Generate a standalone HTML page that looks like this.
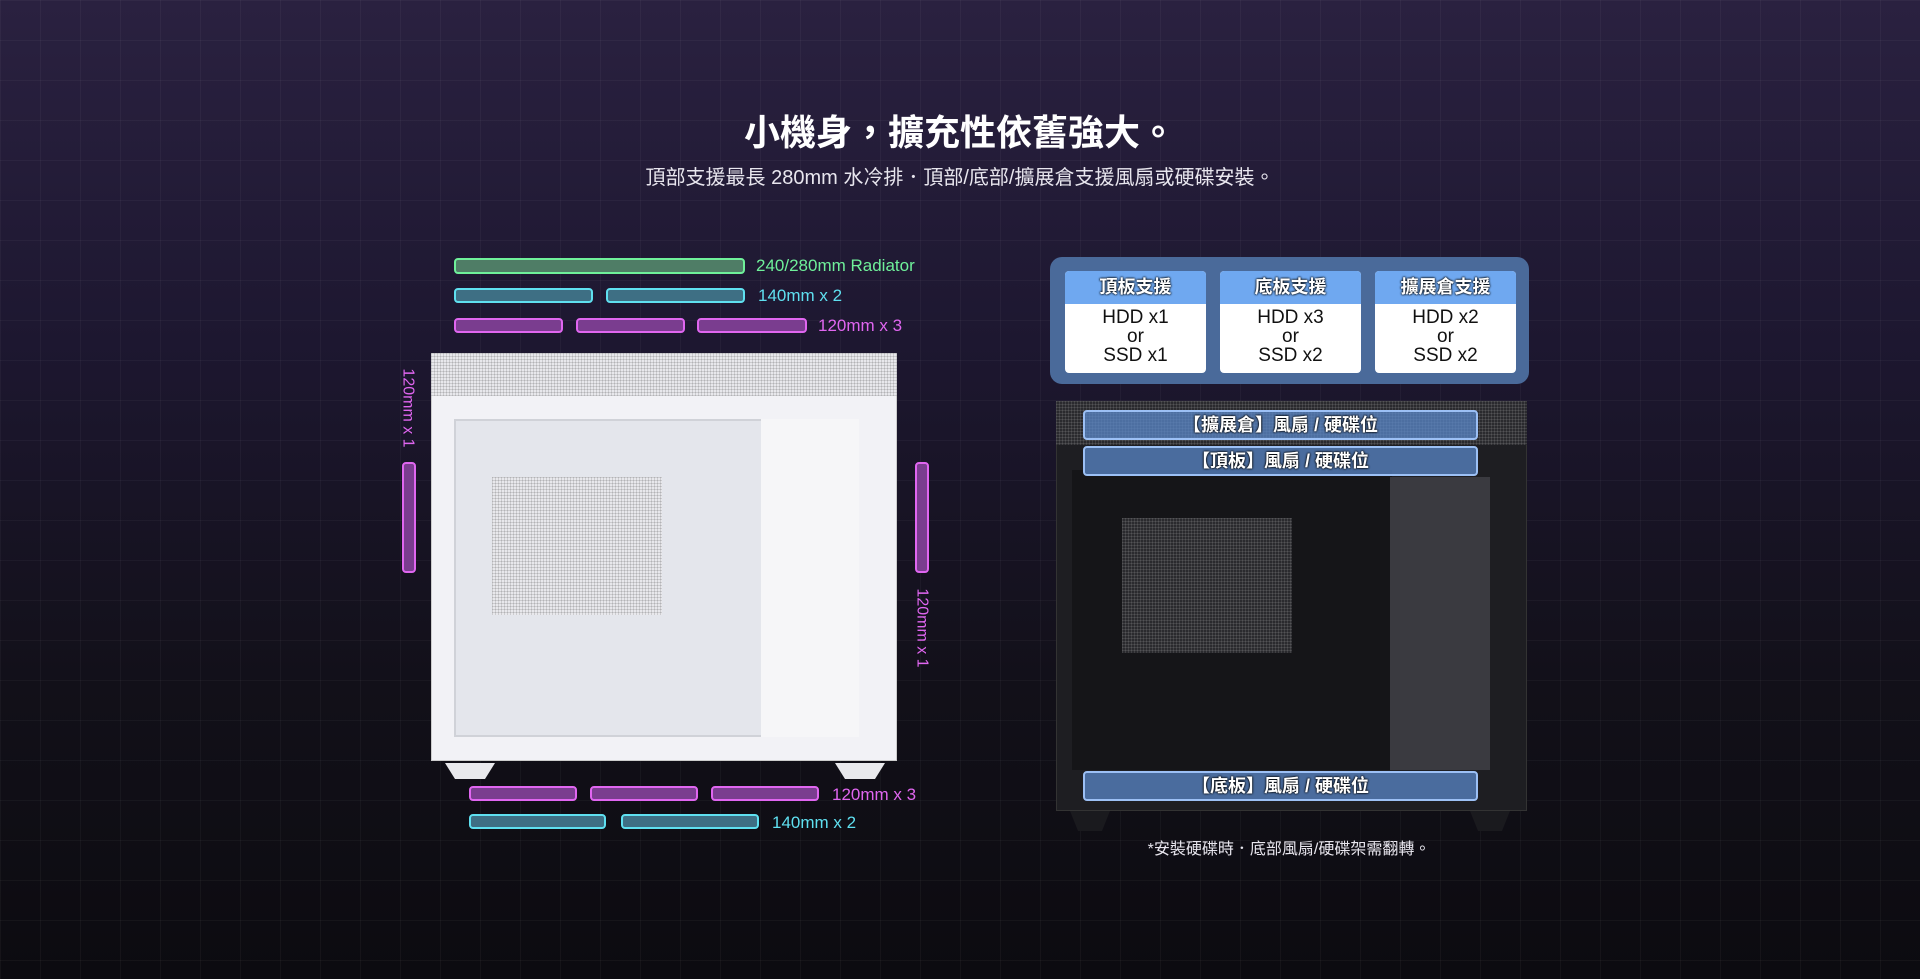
<!DOCTYPE html>
<html><head><meta charset="utf-8"><style>
*{margin:0;padding:0;box-sizing:border-box}
body{width:1920px;height:979px;overflow:hidden;position:relative;font-family:"Liberation Sans","Noto Sans CJK TC",sans-serif;
background:linear-gradient(180deg,#2a2140 0%,#1d1730 35%,#121019 70%,#0c0b10 100%)}
.a{position:absolute}
.grid{position:absolute;inset:0;background-image:linear-gradient(rgba(255,255,255,.035) 1px,transparent 1px),linear-gradient(90deg,rgba(255,255,255,.035) 1px,transparent 1px);background-size:40px 40px}
.bar{position:absolute;border-radius:4px;border:2px solid}
.g{border-color:#6ff09a;background:#4f7d66}
.c{border-color:#5fe0f0;background:#3e6f84}
.m{border-color:#e066f0;background:#7a3d8f}
.lbl{position:absolute;font-size:17px;white-space:nowrap;line-height:1}
.mesh{background-color:#e8e8ec;background-image:linear-gradient(rgba(0,0,0,.12) 1px,transparent 1px),linear-gradient(90deg,rgba(0,0,0,.12) 1px,transparent 1px);background-size:3px 3px}
.dmesh{background-color:#2a2a2e;background-image:linear-gradient(rgba(255,255,255,.1) 1px,transparent 1px),linear-gradient(90deg,rgba(255,255,255,.1) 1px,transparent 1px);background-size:3px 3px}
.box{position:absolute;top:271px;width:141px;height:102px;background:#fff;border-radius:4px;overflow:hidden;text-align:center}
.box .h{height:33px;background:#6fa8f0;color:#fff;font-weight:bold;font-size:18px;line-height:33px;text-shadow:0 0 2px #000,0 0 2px #000}
.box .b{color:#111;font-size:19px;line-height:19px;padding-top:4px}
.pl{position:absolute;left:1083px;width:395px;height:30px;border:2px solid #9cc0f5;background:rgba(90,135,200,.75);border-radius:4px;color:#fff;font-size:18px;font-weight:bold;text-align:center;line-height:26px;text-shadow:0 0 2px #000,0 0 2px #000}
</style></head><body>
<div class="grid"></div>
<div class="a" style="left:0;top:112px;width:1920px;text-align:center;color:#fff;font-size:36px;font-weight:bold;line-height:42px">小機身，擴充性依舊強大。</div>
<div class="a" style="left:0;top:165px;width:1920px;text-align:center;color:#e8e6ee;font-size:20px;line-height:26px">頂部支援最長 280mm 水冷排．頂部/底部/擴展倉支援風扇或硬碟安裝。</div>

<div class="bar g" style="left:454px;top:258px;width:291px;height:16px"></div>
<div class="lbl" style="left:756px;top:257px;color:#6ff09a">240/280mm Radiator</div>
<div class="bar c" style="left:454px;top:288px;width:139px;height:15px"></div>
<div class="bar c" style="left:606px;top:288px;width:139px;height:15px"></div>
<div class="lbl" style="left:758px;top:287px;color:#5fe0f0">140mm x 2</div>
<div class="bar m" style="left:454px;top:318px;width:109px;height:15px"></div>
<div class="bar m" style="left:576px;top:318px;width:109px;height:15px"></div>
<div class="bar m" style="left:697px;top:318px;width:110px;height:15px"></div>
<div class="lbl" style="left:818px;top:317px;color:#e066f0">120mm x 3</div>

<!-- white case -->
<div class="a" style="left:431px;top:353px;width:466px;height:408px;background:#f2f2f6;border:1px solid #ccc"></div>
<div class="a mesh" style="left:431px;top:353px;width:466px;height:43px"></div>
<div class="a" style="left:454px;top:419px;width:405px;height:318px;background:#e4e6ec;border:2px solid #d0d2d8"></div>
<div class="a mesh" style="left:492px;top:477px;width:170px;height:138px"></div>
<div class="a" style="left:761px;top:419px;width:98px;height:318px;background:#f6f6f8"></div>
<div class="a" style="left:445px;top:763px;width:50px;height:16px;background:#e8e8ec;clip-path:polygon(0 0,100% 0,80% 100%,20% 100%)"></div>
<div class="a" style="left:835px;top:763px;width:50px;height:16px;background:#e8e8ec;clip-path:polygon(0 0,100% 0,80% 100%,20% 100%)"></div>

<div class="bar m" style="left:402px;top:462px;width:14px;height:111px"></div>
<div class="lbl" style="left:368px;top:400px;color:#e066f0;transform:rotate(90deg);font-size:16px">120mm x 1</div>
<div class="bar m" style="left:915px;top:462px;width:14px;height:111px"></div>
<div class="lbl" style="left:882px;top:620px;color:#e066f0;transform:rotate(90deg);font-size:16px">120mm x 1</div>

<div class="bar m" style="left:469px;top:786px;width:108px;height:15px"></div>
<div class="bar m" style="left:590px;top:786px;width:108px;height:15px"></div>
<div class="bar m" style="left:711px;top:786px;width:108px;height:15px"></div>
<div class="lbl" style="left:832px;top:786px;color:#e066f0">120mm x 3</div>
<div class="bar c" style="left:469px;top:814px;width:137px;height:15px"></div>
<div class="bar c" style="left:621px;top:814px;width:138px;height:15px"></div>
<div class="lbl" style="left:772px;top:814px;color:#5fe0f0">140mm x 2</div>

<!-- panel -->
<div class="a" style="left:1050px;top:257px;width:479px;height:127px;background:#4a6a9a;border-radius:12px"></div>
<div class="box" style="left:1065px"><div class="h">頂板支援</div><div class="b">HDD x1<br>or<br>SSD x1</div></div>
<div class="box" style="left:1220px"><div class="h">底板支援</div><div class="b">HDD x3<br>or<br>SSD x2</div></div>
<div class="box" style="left:1375px"><div class="h">擴展倉支援</div><div class="b">HDD x2<br>or<br>SSD x2</div></div>

<!-- black case -->
<div class="a" style="left:1056px;top:401px;width:471px;height:410px;background:#1e1e22;border:1px solid #333"></div>
<div class="a dmesh" style="left:1056px;top:401px;width:471px;height:44px"></div>
<div class="a" style="left:1072px;top:470px;width:320px;height:300px;background:#151518"></div>
<div class="a dmesh" style="left:1122px;top:518px;width:170px;height:135px"></div>
<div class="a" style="left:1390px;top:477px;width:100px;height:293px;background:#3a3a40"></div>
<div class="a" style="left:1070px;top:811px;width:40px;height:20px;background:#1a1a1e;clip-path:polygon(0 0,100% 0,80% 100%,20% 100%)"></div>
<div class="a" style="left:1470px;top:811px;width:40px;height:20px;background:#1a1a1e;clip-path:polygon(0 0,100% 0,80% 100%,20% 100%)"></div>
<div class="pl" style="top:410px">【擴展倉】風扇 / 硬碟位</div>
<div class="pl" style="top:446px">【頂板】風扇 / 硬碟位</div>
<div class="pl" style="top:771px">【底板】風扇 / 硬碟位</div>
<div class="a" style="left:1039px;top:835px;width:500px;text-align:center;color:#e8e6ee;font-size:16px">*安裝硬碟時．底部風扇/硬碟架需翻轉。</div>
</body></html>
